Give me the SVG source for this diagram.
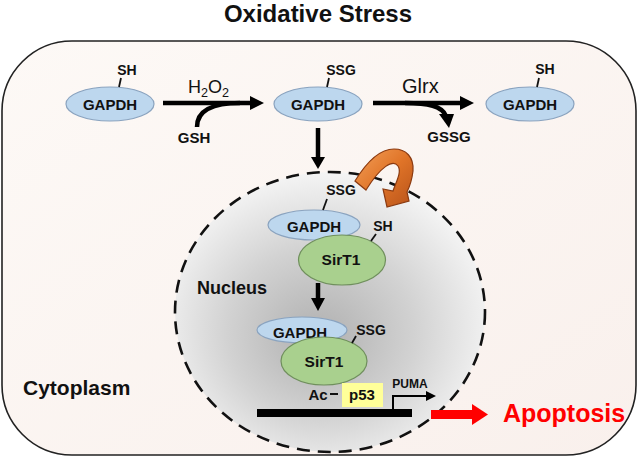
<svg xmlns="http://www.w3.org/2000/svg" width="640" height="458" viewBox="0 0 640 458">
<defs>
<linearGradient id="cyto" x1="0" y1="0" x2="1" y2="1">
<stop offset="0" stop-color="#FDF9F6"/>
<stop offset="1" stop-color="#F9F0EC"/>
</linearGradient>
<radialGradient id="nuc" cx="0.48" cy="0.55" r="0.55" fx="0.46" fy="0.6">
<stop offset="0" stop-color="#AFAFAF"/>
<stop offset="0.55" stop-color="#D2D2D2"/>
<stop offset="1" stop-color="#F4F4F4"/>
</radialGradient>
<linearGradient id="orange" x1="0" y1="0" x2="1" y2="1">
<stop offset="0" stop-color="#F3A15A"/>
<stop offset="0.5" stop-color="#E07428"/>
<stop offset="1" stop-color="#B8531A"/>
</linearGradient>
<style>
text{font-family:"Liberation Sans",Arial,sans-serif;fill:#111;}
.b{font-weight:bold;}
.gap{fill:#BDD7EE;stroke:#8AA3BF;stroke-width:1.2;}
.sir{fill:#A9D08E;stroke:#6F8F5C;stroke-width:1.2;}
.tick{stroke:#111;stroke-width:1.8;fill:none;}
.ln{stroke:#000;fill:none;stroke-width:4.5;}
.hd{fill:#000;}
</style>
</defs>

<text x="318" y="22" text-anchor="middle" class="b" font-size="24">Oxidative Stress</text>

<g id="cytoplasm">
<rect x="2" y="41" width="634" height="414" rx="70" ry="70" fill="url(#cyto)" stroke="#222" stroke-width="1.6"/>
<text x="23" y="395" class="b" font-size="21">Cytoplasm</text>
</g>

<g id="nucleus">
<ellipse cx="330" cy="312" rx="155" ry="140" fill="url(#nuc)" stroke="#111" stroke-width="2.6" stroke-dasharray="13 8"/>
<text x="197" y="294" class="b" font-size="18">Nucleus</text>
</g>

<g id="gapdh1">
<ellipse class="gap" cx="110" cy="104" rx="44" ry="17"/>
<text x="110" y="109.5" text-anchor="middle" class="b" font-size="15">GAPDH</text>
<line class="tick" x1="121" y1="78" x2="119" y2="87"/>
<text x="127" y="75" text-anchor="middle" class="b" font-size="14">SH</text>
</g>

<g id="gapdh2">
<ellipse class="gap" cx="318" cy="104" rx="44" ry="17"/>
<text x="318" y="109.5" text-anchor="middle" class="b" font-size="15">GAPDH</text>
<line class="tick" x1="329" y1="78" x2="327" y2="87"/>
<text x="341" y="75" text-anchor="middle" class="b" font-size="14">SSG</text>
</g>

<g id="gapdh3">
<ellipse class="gap" cx="530" cy="104" rx="44" ry="17"/>
<text x="530" y="109.5" text-anchor="middle" class="b" font-size="15">GAPDH</text>
<line class="tick" x1="539" y1="78" x2="537" y2="87"/>
<text x="545" y="74" text-anchor="middle" class="b" font-size="14">SH</text>
</g>

<g id="complex1">
<ellipse class="gap" cx="314" cy="225" rx="46" ry="15"/>
<text x="314" y="232" text-anchor="middle" class="b" font-size="15">GAPDH</text>
<ellipse class="sir" cx="342" cy="260" rx="43.5" ry="25"/>
<text x="341" y="265" text-anchor="middle" class="b" font-size="15.5">SirT1</text>
<line class="tick" x1="327" y1="199" x2="323" y2="210"/>
<text x="341" y="195" text-anchor="middle" class="b" font-size="14">SSG</text>
<line class="tick" x1="376" y1="234" x2="371" y2="241"/>
<text x="383" y="231" text-anchor="middle" class="b" font-size="14">SH</text>
</g>

<g id="complex2">
<ellipse class="gap" cx="302" cy="330" rx="45" ry="13"/>
<text x="300" y="338" text-anchor="middle" class="b" font-size="15">GAPDH</text>
<ellipse class="sir" cx="324" cy="361" rx="43" ry="24"/>
<text x="324" y="367" text-anchor="middle" class="b" font-size="15.5">SirT1</text>
<line class="tick" x1="356" y1="336" x2="352" y2="343"/>
<text x="371" y="335" text-anchor="middle" class="b" font-size="14">SSG</text>
</g>

<g id="p53">
<text x="318" y="400" text-anchor="middle" class="b" font-size="15">Ac</text>
<line x1="330" y1="394" x2="338" y2="394" stroke="#111" stroke-width="2"/>
<rect x="342" y="383" width="41" height="24" fill="#FFFF99"/>
<text x="362" y="400" text-anchor="middle" class="b" font-size="15">p53</text>
</g>

<g id="gene">
<rect x="257" y="409" width="155" height="8" fill="#000"/>
<text x="410" y="388" text-anchor="middle" class="b" font-size="12">PUMA</text>
</g>

<g id="apoptosis">
<text x="503" y="422" class="b" font-size="25" style="fill:#FF0000">Apoptosis</text>
</g>

<g id="connectors">
<text x="188" y="93" font-size="18">H<tspan font-size="12.6" dy="4">2</tspan><tspan dy="-4">O</tspan><tspan font-size="12.6" dy="4">2</tspan></text>
<text x="402" y="93" font-size="20">Glrx</text>
<text x="194" y="143" text-anchor="middle" class="b" font-size="15">GSH</text>
<text x="449" y="142" text-anchor="middle" class="b" font-size="15">GSSG</text>

<line class="ln" x1="163" y1="103" x2="252" y2="103"/>
<polygon class="hd" points="250,96 264,103 250,110"/>
<path class="ln" stroke-width="4" d="M197,127 C197,111 212,103 240,103"/>

<line class="ln" x1="373" y1="103" x2="462" y2="103"/>
<polygon class="hd" points="460,96 474,103 460,110"/>
<path class="ln" stroke-width="4" d="M405,103 C428,103 442,106 446,116"/>
<polygon class="hd" points="439,114 454,114 449,128"/>

<line class="ln" x1="318" y1="128" x2="318" y2="159"/>
<polygon class="hd" points="311,157 325,157 318,169"/>

<line class="ln" x1="318" y1="283" x2="318" y2="300"/>
<polygon class="hd" points="311,298 325,298 318,311"/>

<path d="M393,409 V396 H428" stroke="#000" stroke-width="2" fill="none"/>
<polygon class="hd" points="426,391 436,396 426,401"/>

<rect x="431" y="410" width="43" height="9" fill="#FF0000"/>
<polygon points="472,404 488,414.5 472,425" fill="#FF0000"/>

<path d="M355,181 C366,163 379,149 394,149 C406,149 414,157 413,171 C412,179 410,186 407,192 L409,201 L387,207 L383,189 L393,191 C396,182 402,172 398,166 C393,159 381,166 366,190 Z" fill="url(#orange)" stroke="#8B3A10" stroke-width="1.2"/>
</g>
</svg>
